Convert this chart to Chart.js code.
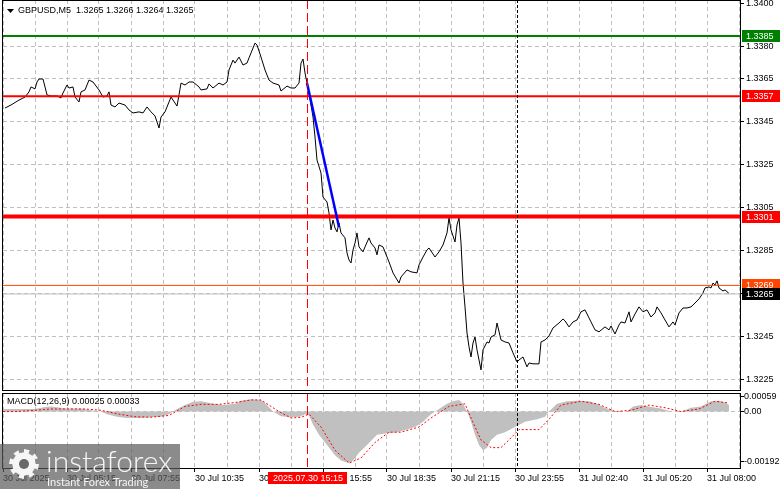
<!DOCTYPE html>
<html>
<head>
<meta charset="utf-8">
<script src="https://cdn.jsdelivr.net/npm/chart.js@4.4.1/dist/chart.umd.min.js"></script>
<style>
  html, body { margin: 0; padding: 0; background: #fff; }
  #wrap { position: relative; width: 781px; height: 489px; overflow: hidden; background: #fff; }
  #wrap canvas { position: absolute; left: 0; }
</style>
</head>
<body>
<div id="wrap">
  <canvas id="mainChart" width="781" height="391" style="top:0"></canvas>
  <canvas id="macdChart" width="781" height="98" style="top:391px"></canvas>
</div>
<script>
// --- data (x = bar number, M5 bars from 30 Jul 02:35) ---
const priceBars = [
  1, 4, 8, 11, 13, 14, 16, 17, 18, 20, 22, 24, 27, 29, 30, 32, 33, 35, 36, 38,
  39, 41, 42, 43, 45, 48, 50, 52, 53, 54, 56, 58, 61, 63, 65, 68, 70, 72, 74, 76,
  78, 79, 81, 83, 84, 86, 87, 88, 89, 91, 93, 95, 98, 99, 102, 103, 105, 108, 110, 112,
  113, 115, 116, 118, 120, 122, 123, 126, 127, 129, 131, 133, 135, 138, 139, 142, 144, 146, 148, 149,
  150, 151, 153, 155, 156, 157, 159, 160, 162, 163, 164, 165, 166, 167, 168, 169, 171, 172, 173, 174,
  175, 176, 177, 178, 180, 181, 183, 184, 186, 187, 188, 190, 193, 195, 198, 199, 202, 204, 207, 208,
  210, 212, 213, 216, 218, 220, 222, 223, 224, 226, 227, 228, 229, 230, 231, 232, 233, 234, 235, 236,
  237, 239, 240, 242, 243, 244, 246, 247, 249, 251, 253, 255, 257, 258, 260, 262, 263, 265, 268, 269,
  271, 273, 275, 278, 280, 281, 283, 285, 287, 289, 291, 293, 294, 296, 298, 301, 303, 304, 306, 308,
  309, 311, 313, 314, 316, 318, 320, 322, 324, 326, 327, 329, 331, 333, 335, 336, 338, 340, 342, 344,
  346, 348, 350, 351, 353, 354, 355, 356, 357, 358, 360, 361, 363
];
const priceValues = [
  1.33515, 1.33529, 1.33552, 1.33566, 1.3359, 1.33613, 1.33604, 1.33636, 1.3365, 1.3365,
  1.33576, 1.33571, 1.33571, 1.33562, 1.33585, 1.33622, 1.33608, 1.33613, 1.33566, 1.33543,
  1.3359, 1.33599, 1.33622, 1.33645, 1.33636, 1.33599, 1.33566, 1.33571, 1.3359, 1.33529,
  1.3352, 1.33538, 1.33529, 1.33506, 1.33492, 1.33497, 1.33492, 1.3352, 1.33497, 1.33478,
  1.33422, 1.33473, 1.33497, 1.33543, 1.33566, 1.33538, 1.33524, 1.33576, 1.33631, 1.33622,
  1.33636, 1.33636, 1.33613, 1.33599, 1.33604, 1.33627, 1.33608, 1.33631, 1.33622, 1.33636,
  1.33692, 1.33738, 1.33724, 1.33752, 1.33715, 1.33724, 1.33748, 1.33817, 1.33808, 1.33752,
  1.33692, 1.33645, 1.33631, 1.33622, 1.33594, 1.33617, 1.33608, 1.33608, 1.33631, 1.33724,
  1.33743, 1.33678, 1.33585, 1.33473, 1.3338, 1.33273, 1.33213, 1.33101, 1.33078, 1.33027,
  1.32948, 1.32994, 1.32957, 1.32939, 1.3298, 1.32934, 1.32911, 1.32841, 1.32808, 1.32794,
  1.32855, 1.32887, 1.32934, 1.32869, 1.32846, 1.32869, 1.32911, 1.32887, 1.32864, 1.32832,
  1.32878, 1.32869, 1.32799, 1.32748, 1.32701, 1.32729, 1.32762, 1.32753, 1.32748, 1.32785,
  1.32822, 1.32855, 1.32864, 1.32822, 1.32846, 1.32878, 1.32934, 1.33004, 1.32948, 1.32892,
  1.32971, 1.33004, 1.32887, 1.32701, 1.3259, 1.32469, 1.32404, 1.32357, 1.32422, 1.3245,
  1.3239, 1.32297, 1.3239, 1.32427, 1.32422, 1.3245, 1.3246, 1.32515, 1.32436, 1.32427,
  1.32422, 1.32376, 1.32334, 1.32343, 1.32357, 1.32311, 1.32329, 1.32325, 1.32325, 1.32427,
  1.32436, 1.32455, 1.32492, 1.32515, 1.32534, 1.32525, 1.32497, 1.3252, 1.32529, 1.32567,
  1.32576, 1.32539, 1.3252, 1.32483, 1.32474, 1.32497, 1.32483, 1.32501, 1.32464, 1.32506,
  1.3252, 1.32515, 1.32567, 1.3252, 1.32557, 1.3259, 1.32567, 1.32576, 1.32543, 1.32562,
  1.3259, 1.32562, 1.32529, 1.32497, 1.3252, 1.32506, 1.32562, 1.32585, 1.32585, 1.3259,
  1.32608, 1.32627, 1.32655, 1.32678, 1.32683, 1.32678, 1.32701, 1.32692, 1.32711, 1.32678,
  1.32664, 1.32669, 1.32652
];

const macdBars = [
  0, 7, 16, 21, 24, 28, 32, 39, 44, 49, 52, 57, 62, 69, 74, 79, 83, 87, 91, 95,
  99, 104, 110, 116, 119, 124, 129, 132, 135, 139, 144, 148, 151, 153, 155, 158, 162, 166, 169, 173,
  175, 178, 182, 187, 191, 197, 202, 206, 210, 214, 218, 222, 225, 228, 230, 232, 234, 236, 238, 240,
  242, 244, 247, 251, 256, 261, 267, 271, 273, 277, 282, 287, 293, 297, 302, 307, 312, 315, 319, 324,
  329, 334, 339, 344, 349, 354, 358, 361, 363
];
const macdValues = [
  0.0001, 0.0001, 0.0001, 0.00018, 0.0002, 0.00016, 0.00012, 0.00012, 0.00005, 0,
  -0.0001, -0.0002, -0.00025, -0.00025, -0.00022, -0.0002, -0.0001, 0.0001, 0.00025, 0.00038,
  0.0004, 0.00032, 0.00025, 0.0003, 0.00042, 0.00048, 0.00045, 0.00025, 0, -0.00018,
  -0.00022, -0.0002, -0.0001, -0.00015, -0.0005, -0.0009, -0.0013, -0.0017, -0.0019, -0.002,
  -0.0019, -0.0016, -0.0013, -0.0009, -0.00085, -0.0008, -0.0007, -0.0006, -0.0004, -0.0001,
  0.0001, 0.0003, 0.0004, 0.00045, 0.0003, 0, -0.0004, -0.0009, -0.0013, -0.0015,
  -0.0014, -0.0011, -0.0009, -0.0008, -0.0006, -0.0004, -0.0003, -0.0002, 0, 0.0003,
  0.0004, 0.00042, 0.0004, 0.0003, 0.0001, 0, 0, 0.0002, 0.00025, 0.00018,
  0.00012, 0, 0, 0.00015, 0.0002, 0.0004, 0.00042, 0.00035, 0.00025
];

const signalBars = [
  0, 7, 16, 24, 34, 41, 49, 58, 66, 74, 83, 91, 99, 108, 116, 124, 129, 134, 138, 144,
  149, 153, 159, 166, 173, 179, 186, 193, 199, 208, 214, 223, 231, 234, 239, 244, 249, 253, 258, 268,
  273, 279, 289, 298, 306, 314, 323, 331, 339, 348, 356, 363
];
const signalValues = [
  0, 0, 0.00005, 0.0001, 0.0001, 0.0001, 0.00005, -0.0001, -0.0002, -0.00022,
  -0.00015, 0.0002, 0.00028, 0.00028, 0.00035, 0.00045, 0.00045, 0.0002, 0, -0.00025,
  -0.00022, -0.0001, -0.0006, -0.0015, -0.002, -0.0018, -0.0012, -0.0008, -0.0008, -0.0006,
  -0.00025, 0.0002, 0.0003, -0.00025, -0.0011, -0.0014, -0.0014, -0.0011, -0.0007, -0.0007,
  -0.0003, 0.00025, 0.0004, 0.00028, 0, 0.00005, 0.00025, 0.00015, 0, 0.0001,
  0.0004, 0.00033
];

const levelPrices = [1.3385, 1.3357, 1.3301];   // green, red, red (thick)
const askPrice = 1.3269;
const bidPrice = 1.3265;
const trendBars = [152, 168];
const trendValues = [1.33631, 1.32962];
const markerBar = 152;        // 2025.07.30 15:15
const daySeparatorBar = 257;  // 31 Jul 00:00

const priceTicks = [1.3225, 1.3245, 1.3265, 1.3285, 1.3305, 1.3325, 1.3345, 1.3365, 1.3380, 1.3400];
const macdTicks = [-0.00192, 0, 0.00059];
const timeLabels = ['30 Jul 2025', '30 Jul 05:15', '30 Jul 07:55', '30 Jul 10:35', '30 Jul 13:15', '30 Jul 15:55',
  '30 Jul 18:35', '30 Jul 21:15', '30 Jul 23:55', '31 Jul 02:40', '31 Jul 05:20', '31 Jul 08:00'];
const titleText = 'GBPUSD,M5  1.3265 1.3266 1.3264 1.3265';
const macdTitle = 'MACD(12,26,9) 0.00025 0.00033';
const markerText = '2025.07.30 15:15';

// --- helpers ---
const FONT = '"Liberation Sans", Arial, sans-serif';
Chart.defaults.font.family = FONT;
Chart.defaults.font.size = 9;
Chart.defaults.color = '#000';

const X_MIN = 0, X_MAX = 368.5;
const GRID = '#c0c0c0';
let gridBars = [];
for (let b = 0; b <= 368; b += 16) gridBars.push(b);

const toPoints = (xs, ys) => xs.map((b, i) => ({ x: b, y: ys[i] }));
const flat = v => [{ x: X_MIN, y: v }, { x: X_MAX, y: v }];

function timeAxis(showLabels) {
  return {
    type: 'linear', min: X_MIN, max: X_MAX,
    afterBuildTicks: s => { s.ticks = gridBars.map(v => ({ value: v })); },
    afterFit: s => { s.height = showLabels ? 21 : 0; s.paddingLeft = 0; s.paddingRight = 0; },
    border: { display: false, dash: [4, 3] },
    grid: {
      color: GRID, lineWidth: 1, drawTicks: showLabels, tickLength: 4,
      tickColor: c => (c.tick && c.tick.value % 32 === 0) ? '#000' : 'rgba(0,0,0,0)'
    },
    ticks: {
      display: showLabels, autoSkip: false, maxRotation: 0, minRotation: 0, align: 'start', padding: 1,
      callback: v => v % 32 === 0 ? (timeLabels[v / 32] || '') : ''
    }
  };
}

function vLine(chart, bar, color, dash) {
  const { ctx, chartArea: a, scales: { x } } = chart;
  const px = Math.round(x.getPixelForValue(bar)) + 0.5;
  ctx.save();
  ctx.strokeStyle = color;
  ctx.lineWidth = 1;
  ctx.setLineDash(dash);
  ctx.beginPath();
  ctx.moveTo(px, a.top);
  ctx.lineTo(px, a.bottom);
  ctx.stroke();
  ctx.restore();
}

function frame(chart) {
  const { ctx, chartArea: a } = chart;
  ctx.save();
  ctx.strokeStyle = '#000';
  ctx.lineWidth = 1;
  ctx.strokeRect(a.left - 0.5, a.top + 0.5, a.right - a.left + 1, a.bottom - a.top);
  ctx.restore();
}

function tag(chart, value, bg, text) {
  const { ctx, scales: { y } } = chart;
  const py = Math.round(y.getPixelForValue(value));
  ctx.save();
  ctx.fillStyle = bg;
  ctx.fillRect(742, py - 6, 38, 12);
  ctx.fillStyle = '#fff';
  ctx.font = '9px ' + FONT;
  ctx.textBaseline = 'middle';
  ctx.fillText(text, 746, py + 0.5);
  ctx.restore();
}

const mainDecor = {
  id: 'mainDecor',
  afterDatasetsDraw(chart) {
    vLine(chart, markerBar, '#ff0000', [9, 4]);
    vLine(chart, daySeparatorBar, '#000', [3, 2]);
  },
  afterDraw(chart) {
    const ctx = chart.ctx;
    frame(chart);
    ctx.save();
    ctx.fillStyle = '#000';
    ctx.beginPath();
    ctx.moveTo(7, 9); ctx.lineTo(14, 9); ctx.lineTo(10.5, 13); ctx.closePath();
    ctx.fill();
    ctx.font = '9px ' + FONT;
    ctx.textBaseline = 'middle';
    ctx.fillText(titleText, 18, 11);
    ctx.restore();
    tag(chart, levelPrices[0], '#008000', levelPrices[0].toFixed(4));
    tag(chart, levelPrices[1], '#ff0000', levelPrices[1].toFixed(4));
    tag(chart, levelPrices[2], '#ff0000', levelPrices[2].toFixed(4));
    tag(chart, askPrice, '#ff4500', askPrice.toFixed(4));
    tag(chart, bidPrice, '#000000', bidPrice.toFixed(4));
  }
};

function drawGear(ctx, cx, cy, r) {
  const teeth = 8;
  ctx.beginPath();
  for (let i = 0; i < teeth * 2; i++) {
    const a0 = (i / (teeth * 2)) * Math.PI * 2;
    const a1 = ((i + 1) / (teeth * 2)) * Math.PI * 2;
    const rr = i % 2 === 0 ? r : r * 0.78;
    ctx.lineTo(cx + rr * Math.cos(a0), cy + rr * Math.sin(a0));
    ctx.lineTo(cx + rr * Math.cos(a1), cy + rr * Math.sin(a1));
  }
  ctx.closePath();
  ctx.fill();
}

const macdDecor = {
  id: 'macdDecor',
  afterDatasetsDraw(chart) {
    vLine(chart, markerBar, '#ff0000', [9, 4]);
    vLine(chart, daySeparatorBar, '#000', [3, 2]);
  },
  afterDraw(chart) {
    const ctx = chart.ctx;
    frame(chart);
    ctx.save();
    ctx.font = '9px ' + FONT;
    ctx.fillStyle = '#000';
    ctx.textBaseline = 'middle';
    ctx.fillText(macdTitle, 7, 11);

    // highlighted time on the axis
    const px = Math.round(chart.scales.x.getPixelForValue(markerBar));
    ctx.fillStyle = '#ff0000';
    ctx.fillRect(px - 39, 81, 79, 12);
    ctx.fillStyle = '#fff';
    ctx.textAlign = 'center';
    ctx.fillText(markerText, px + 1, 87.5);

    // watermark
    ctx.textAlign = 'left';
    ctx.fillStyle = 'rgba(90,90,90,0.7)';
    ctx.fillRect(0, 53, 180, 45);
    ctx.fillStyle = 'rgba(255,255,255,0.92)';
    drawGear(ctx, 24, 73, 15);
    ctx.fillStyle = 'rgba(90,90,90,0.9)';
    ctx.beginPath(); ctx.arc(24, 73, 5, 0, Math.PI * 2); ctx.fill();
    ctx.fillStyle = 'rgba(255,255,255,0.92)';
    ctx.font = '300 30px Lato, "Open Sans", sans-serif';
    ctx.textBaseline = 'alphabetic';
    ctx.fillText('instaforex', 46, 81);
    ctx.font = '11px Lato, "Open Sans", sans-serif';
    ctx.fillText('Instant Forex Trading', 47, 95);
    ctx.restore();
  }
};

// --- main price chart ---
new Chart(document.getElementById('mainChart'), {
  type: 'line',
  data: {
    datasets: [
      { data: toPoints(priceBars, priceValues), borderColor: '#000', borderWidth: 1, pointRadius: 0, order: 10 },
      { data: flat(bidPrice), borderColor: '#c0c0c0', borderWidth: 1, pointRadius: 0, order: 9 },
      { data: flat(askPrice), borderColor: '#ff4500', borderWidth: 1, pointRadius: 0, order: 8 },
      { data: flat(levelPrices[0]), borderColor: '#008000', borderWidth: 2, pointRadius: 0, order: 5 },
      { data: flat(levelPrices[1]), borderColor: '#ff0000', borderWidth: 2, pointRadius: 0, order: 5 },
      { data: flat(levelPrices[2]), borderColor: '#ff0000', borderWidth: 4, pointRadius: 0, order: 5 },
      { data: toPoints(trendBars, trendValues), borderColor: '#0000ff', borderWidth: 2.5, pointRadius: 0, order: 1 }
    ]
  },
  options: {
    responsive: false, animation: false, events: [],
    layout: { padding: { left: 3, top: 0, right: 0, bottom: 1 } },
    plugins: { legend: { display: false }, tooltip: { enabled: false } },
    elements: { line: { tension: 0 } },
    scales: {
      x: timeAxis(false),
      y: {
        position: 'right', min: 1.322034, max: 1.340174,
        afterBuildTicks: s => { s.ticks = priceTicks.map(v => ({ value: v })); },
        afterFit: s => { s.width = 41; s.paddingTop = 0; s.paddingBottom = 0; },
        border: { display: false, dash: [4, 3] },
        grid: {
          color: c => (c.tick && c.tick.value > 1.3399) ? 'rgba(0,0,0,0)' : GRID,
          tickColor: '#000', tickLength: 4
        },
        ticks: { padding: 2, callback: v => v.toFixed(4) }
      }
    }
  },
  plugins: [mainDecor]
});

// --- MACD panel ---
new Chart(document.getElementById('macdChart'), {
  type: 'line',
  data: {
    datasets: [
      { data: toPoints(macdBars, macdValues), borderWidth: 0, borderColor: 'rgba(0,0,0,0)',
        backgroundColor: '#c0c0c0', fill: 'origin', pointRadius: 0, order: 2 },
      { data: toPoints(signalBars, signalValues), borderColor: '#ff0000', borderWidth: 1,
        borderDash: [2, 2], pointRadius: 0, fill: false, order: 1 }
    ]
  },
  options: {
    responsive: false, animation: false, events: [],
    layout: { padding: { left: 3, top: 2, right: 0, bottom: 0 } },
    plugins: { legend: { display: false }, tooltip: { enabled: false } },
    elements: { line: { tension: 0 } },
    scales: {
      x: timeAxis(true),
      y: {
        position: 'right', min: -0.00219, max: 0.00072,
        afterBuildTicks: s => { s.ticks = macdTicks.map(v => ({ value: v })); },
        afterFit: s => { s.width = 41; s.paddingTop = 0; s.paddingBottom = 0; },
        border: { display: false, dash: [4, 3] },
        grid: {
          color: c => (c.tick && c.tick.value === 0) ? GRID : 'rgba(0,0,0,0)',
          tickColor: '#000', tickLength: 4
        },
        ticks: { padding: 0, callback: v => v === 0 ? '0.00' : v.toFixed(5) }
      }
    }
  },
  plugins: [macdDecor]
});
</script>
</body>
</html>
